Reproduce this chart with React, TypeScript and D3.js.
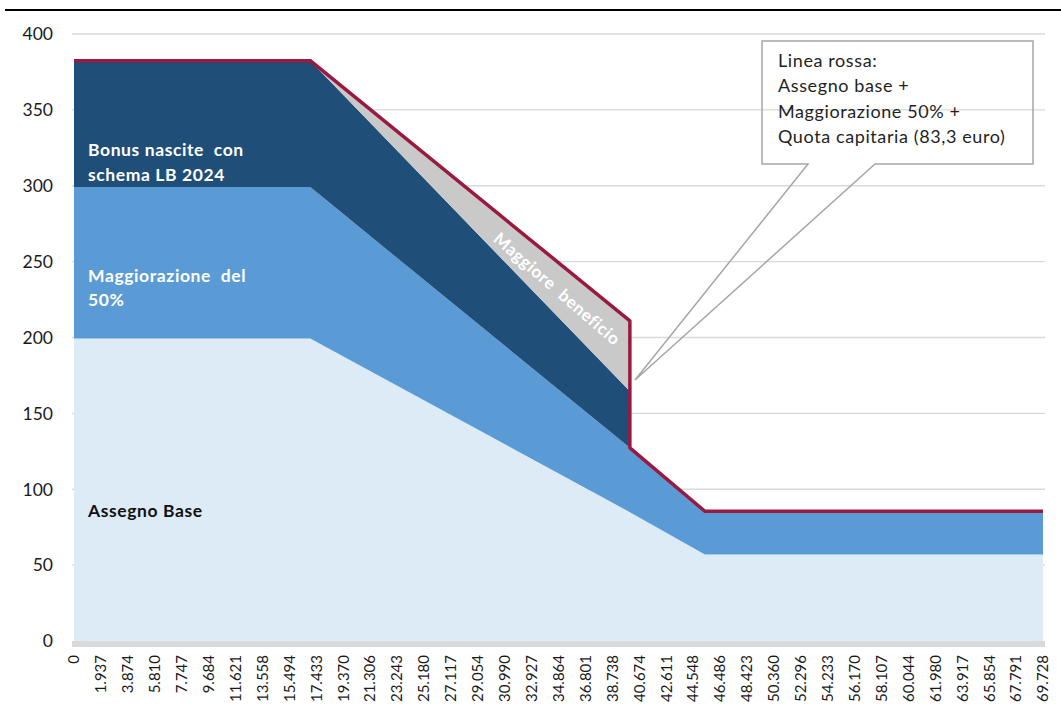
import React from "react";
import * as d3 from "d3";

// ISEE breakpoints (euro) and stacked components (euro / month)
const ISEE = [0, 17000, 40000, 40000, 45400, 69728];
const ASSEGNO_BASE = [199.4, 199.4, 84.9, 84.9, 57.0, 57.0];
const MAGGIORAZIONE = [99.7, 99.7, 42.4, 42.4, 28.5, 28.5];
const BONUS_NASCITE = [83.3, 83.3, 37.2, 0, 0, 0];
const MAGGIORE_BENEFICIO = [0, 0, 46.5, 0, 0, 0];

const X_LABELS = [
  "0", "1.937", "3.874", "5.810", "7.747", "9.684", "11.621", "13.558", "15.494",
  "17.433", "19.370", "21.306", "23.243", "25.180", "27.117", "29.054", "30.990",
  "32.927", "34.864", "36.801", "38.738", "40.674", "42.611", "44.548", "46.486",
  "48.423", "50.360", "52.296", "54.233", "56.170", "58.107", "60.044", "61.980",
  "63.917", "65.854", "67.791", "69.728",
];
const X_MAX = 69728;
const Y_TICKS = [0, 50, 100, 150, 200, 250, 300, 350, 400];

const CALLOUT_LINES = [
  "Linea rossa:",
  "Assegno base +",
  "Maggiorazione 50% +",
  "Quota capitaria (83,3 euro)",
];

const KEYS = ["base", "magg", "bonus", "benef"];
const COLORS: Record<string, string> = {
  base: "#DDEBF7",
  magg: "#5B9BD5",
  bonus: "#1F4E79",
  benef: "#C9C9C9",
};

const FONT = "Lato, 'Open Sans', sans-serif";

export default function App() {
  const W = 1061;
  const H = 722;
  const x0 = 74;
  const x1 = 1043;
  const yTop = 34;
  const yBot = 641;

  const x = d3.scaleLinear().domain([0, X_MAX]).range([x0, x1]);
  const xCat = d3.scalePoint<string>().domain(X_LABELS).range([x0, x1]);
  const y = d3.scaleLinear().domain([0, 400]).range([yBot, yTop]);

  const rows = ISEE.map((v, i) => ({
    isee: v,
    base: ASSEGNO_BASE[i],
    magg: MAGGIORAZIONE[i],
    bonus: BONUS_NASCITE[i],
    benef: MAGGIORE_BENEFICIO[i],
  }));
  const stacked = d3.stack<any>().keys(KEYS)(rows);

  const area = d3
    .area<any>()
    .x((d) => x(d.data.isee))
    .y0((d) => y(d[0]))
    .y1((d) => y(d[1]));

  const topSeries = stacked[stacked.length - 1];
  const redLine = d3
    .line<any>()
    .x((d) => x(d.data.isee))
    .y((d) => y(d[1]));

  const calloutPts: [number, number][] = [
    [762, 41], [1033, 41], [1033, 164], [875, 164], [635, 380], [808, 164], [762, 164],
  ];

  return (
    <svg
      width={W}
      height={H}
      style={{ position: "fixed", left: 0, top: 0, background: "#fff" }}
      fontFamily={FONT}
    >
      <rect x={0} y={0} width={W} height={H} fill="#fff" />
      <line x1={5} x2={W} y1={10} y2={10} stroke="#000" strokeWidth={2} />

      {/* gridlines */}
      {Y_TICKS.filter((t) => t > 0).map((t) => (
        <line key={t} x1={72} x2={1045} y1={y(t)} y2={y(t)} stroke="#D9D9D9" strokeWidth={1.3} />
      ))}

      {/* stacked areas */}
      {stacked.map((s) => (
        <path key={s.key} d={area(s) || ""} fill={COLORS[s.key]} />
      ))}

      {/* red total line */}
      <path
        d={redLine(topSeries) || ""}
        fill="none"
        stroke="#9A1A3F"
        strokeWidth={3.5}
        strokeLinejoin="round"
      />

      {/* x axis band */}
      <line x1={72} x2={1045} y1={644} y2={644} stroke="#D9D9D9" strokeWidth={6} />

      {/* y labels */}
      {Y_TICKS.map((t) => (
        <text key={t} x={53} y={y(t)} dy="0.36em" textAnchor="end" fontSize={17.5} fill="#1a1a1a">
          {t}
        </text>
      ))}

      {/* x labels */}
      {X_LABELS.map((l) => (
        <text
          key={l}
          transform={`translate(${xCat(l)},655) rotate(-90)`}
          textAnchor="end"
          dy="0.36em"
          fontSize={15}
          fill="#1a1a1a"
        >
          {l}
        </text>
      ))}

      {/* in-chart labels */}
      <g fontWeight="bold" fontSize={17.5} letterSpacing={0.6} fill="#fff">
        <text x={88} y={156} xmlSpace="preserve">{"Bonus nascite  con"}</text>
        <text x={88} y={181}>schema LB 2024</text>
        <text x={88} y={282} xmlSpace="preserve">{"Maggiorazione  del"}</text>
        <text x={88} y={306}>50%</text>
        <text x={88} y={517} fill="#111">Assegno Base</text>
        <text
          transform="translate(557,289) rotate(41)"
          textAnchor="middle"
          dy="0.35em"
          fontSize={17}
          xmlSpace="preserve"
        >
          {"Maggiore  beneficio"}
        </text>
      </g>

      {/* callout */}
      <polygon
        points={calloutPts.map((p) => p.join(",")).join(" ")}
        fill="none"
        stroke="#A6A6A6"
        strokeWidth={1.5}
      />
      {CALLOUT_LINES.map((t, i) => (
        <text key={i} x={778} y={67 + i * 25.4} fontSize={18} letterSpacing={0.6} fill="#1f1f1f">
          {t}
        </text>
      ))}
    </svg>
  );
}
